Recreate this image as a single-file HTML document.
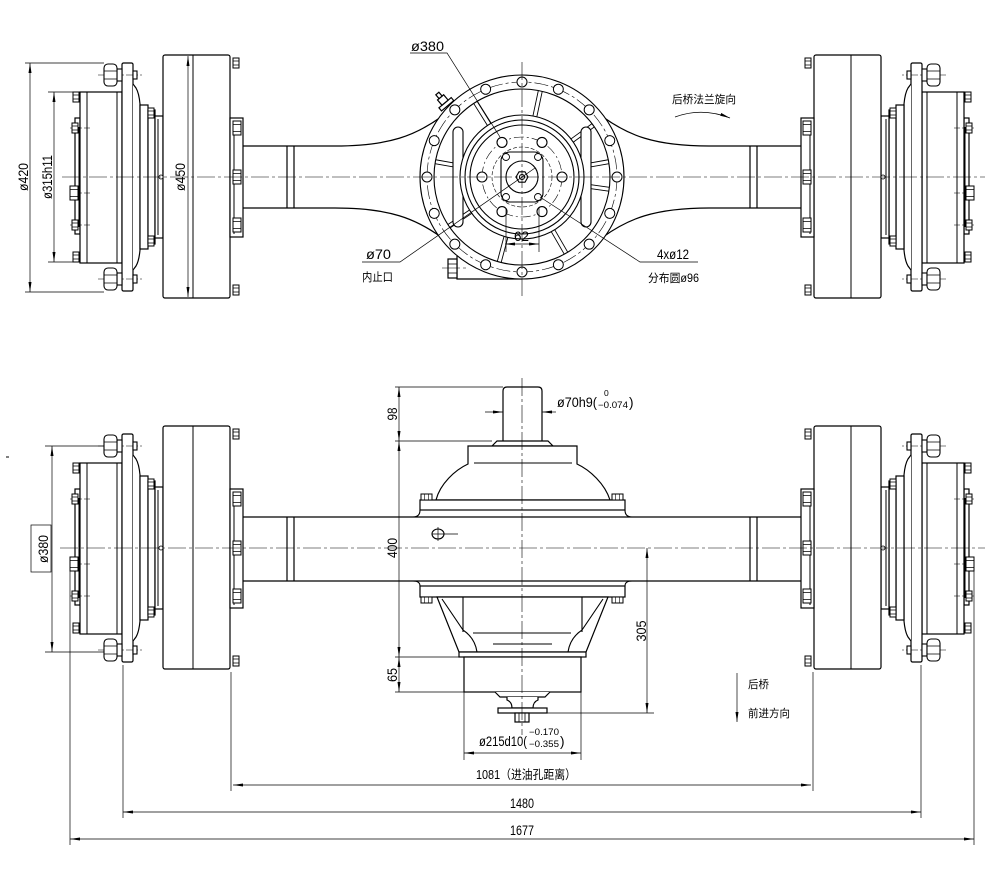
<!DOCTYPE html>
<html><head><meta charset="utf-8"><style>
html,body{margin:0;padding:0;background:#fff;}
svg{display:block;}
text{font-family:"Liberation Sans","Noto Sans CJK SC",sans-serif;fill:#000;stroke:none;}
</style></head><body>
<svg width="1000" height="874" viewBox="0 0 1000 874" xmlns="http://www.w3.org/2000/svg">
<defs>
<marker id="a" viewBox="0 0 10 3" refX="10" refY="1.5" markerWidth="10" markerHeight="3" markerUnits="userSpaceOnUse" orient="auto-start-reverse"><path d="M0,0L10,1.5L0,3z" fill="#000"/></marker>
<g id="nut"><rect x="-4" y="-7" width="8" height="14" fill="#fff" stroke="#000" stroke-width="1"/><path d="M-4,-3.5H4M-4,3.5H4" stroke="#000" stroke-width="0.8"/></g>
<g id="snut"><rect x="-3" y="-5" width="6" height="10" fill="#fff" stroke="#000" stroke-width="1"/><path d="M-3,-2H3M-3,2H3" stroke="#000" stroke-width="0.7"/></g>
<g id="end">
 <g fill="#fff" stroke="#000" stroke-width="1.2">
  <rect x="75" y="-59" width="5" height="116"/>
  <rect x="80" y="-85" width="42" height="171"/>
  <rect x="122" y="-114" width="11" height="228" rx="1.5"/>
  <path d="M133,-93 L136,-89 Q139,-84 140,-73 L140,73 Q139,84 136,89 L133,93"/>
  <rect x="140" y="-72" width="8" height="144"/>
  <rect x="148" y="-67" width="7" height="134"/>
  <rect x="155" y="-61" width="8" height="122"/>
  <rect x="163" y="-122" width="67" height="243" rx="2"/>
  <rect x="230" y="-59" width="13" height="119"/>
 </g>
 <g stroke="#000" stroke-width="1" fill="none">
  <line x1="87" y1="-85" x2="87" y2="86"/>
  <line x1="117" y1="-85" x2="117" y2="86"/>
  <line x1="193" y1="-122" x2="193" y2="121"/>
  <line x1="158" y1="-58" x2="158" y2="58"/>
  <line x1="234" y1="-56" x2="234" y2="57"/>
  <line x1="79" y1="-50" x2="79" y2="50"/>
 </g>
 <g stroke="#000" stroke-width="0.6" stroke-dasharray="8 2 2 2">
  <line x1="98" y1="-102" x2="142" y2="-102"/>
  <line x1="98" y1="102" x2="142" y2="102"/>
  <line x1="70" y1="-49" x2="90" y2="-49"/>
  <line x1="70" y1="16" x2="90" y2="16"/>
  <line x1="70" y1="48" x2="90" y2="48"/>
 </g>
 <g fill="#fff" stroke="#000" stroke-width="1.1">
  <rect x="117" y="-108" width="5" height="12"/>
  <rect x="117" y="96" width="5" height="12"/>
  <rect x="104" y="-113" width="13" height="22" rx="4"/>
  <rect x="104" y="91" width="13" height="22" rx="4"/>
  <rect x="133" y="-106" width="4" height="8"/>
  <rect x="133" y="98" width="4" height="8"/>
 </g>
 <path d="M104,-106H117M104,-98H117M104,98H117M104,106H117" stroke="#000" stroke-width="0.8"/>
 <use href="#snut" x="76" y="-80"/>
 <use href="#snut" x="75" y="-49"/>
 <use href="#nut" x="74" y="16"/>
 <use href="#snut" x="75" y="48"/>
 <use href="#snut" x="76" y="80"/>
 <use href="#snut" x="151" y="-64"/>
 <use href="#snut" x="151" y="64"/>
 <use href="#nut" x="237" y="-49"/>
 <use href="#nut" x="237" y="0"/>
 <use href="#nut" x="237" y="48"/>
 <use href="#snut" x="236" y="-114"/>
 <use href="#snut" x="236" y="113"/>
 <circle cx="161" cy="0" r="2" fill="#fff" stroke="#000" stroke-width="0.8"/>
</g>
</defs>

<!-- ================= TOP VIEW ================= -->
<g fill="none" stroke="#000" stroke-width="1.2">
 <path d="M243,146 L335,146 C390,146 416,135 441,117"/>
 <path d="M243,208 L335,208 C390,208 416,219 441,237"/>
 <path d="M801,146 L709,146 C654,146 628,135 603,117"/>
 <path d="M801,208 L709,208 C654,208 628,219 603,237"/>
 <path d="M287,146V208M294,146V208M750,146V208M757,146V208"/>
</g>
<use href="#end" transform="translate(0,177)"/>
<use href="#end" transform="translate(1044,177) scale(-1,1)"/>

<g fill="none" stroke="#000" stroke-width="1.2">
 <path d="M457,256 L457,279 L522,279"/>
 <rect x="448" y="259" width="9" height="19" fill="#fff"/>
 <path d="M448,264H457M448,273H457" stroke-width="0.8"/>
 <g transform="translate(447,105) rotate(-40)" fill="#fff">
  <rect x="-8" y="-3" width="16" height="4"/>
  <rect x="-4" y="-10" width="8" height="7"/>
  <rect x="-2" y="-15" width="4" height="5"/>
 </g>
</g>
<g transform="translate(522,177)" fill="none" stroke="#000" stroke-width="1.1">
 <circle r="102" fill="#fff"/>
 <circle r="95" stroke-width="0.6" stroke-dasharray="14 3 3 3"/>
 <circle r="88"/>
 <g stroke-width="0.9">
  <path transform="rotate(-78)" d="M62,-2H88M62,2H88"/>
  <path transform="rotate(-122)" d="M62,-2H88M62,2H88"/>
  <path transform="rotate(-36)" d="M62,-2H88M62,2H88"/>
  <path transform="rotate(-10)" d="M62,-2H88M62,2H88"/>
  <path transform="rotate(8)" d="M62,-2H88M62,2H88"/>
  <path transform="rotate(60)" d="M62,-2H88M62,2H88"/>
  <path transform="rotate(105)" d="M62,-2H88M62,2H88"/>
  <path transform="rotate(-170)" d="M62,-2H88M62,2H88"/>
  <path transform="rotate(-214)" d="M62,-2H88M62,2H88"/>
 </g>
 <rect x="-69" y="-50" width="10" height="100" rx="5" fill="#fff"/>
 <rect x="59" y="-50" width="10" height="100" rx="5" fill="#fff"/>
 <circle r="62" fill="#fff"/>
 <circle r="57"/>
 <circle r="52"/>
 <circle r="40" stroke-width="0.6" stroke-dasharray="10 3 2 3"/>
 <circle r="30" stroke-width="0.6" stroke-dasharray="4 2"/>
 <g fill="#fff">
  <circle cx="40" cy="0" r="5"/><circle cx="20" cy="34.6" r="5"/><circle cx="-20" cy="34.6" r="5"/>
  <circle cx="-40" cy="0" r="5"/><circle cx="-20" cy="-34.6" r="5"/><circle cx="20" cy="-34.6" r="5"/>
 </g>
 <rect x="-21" y="-25" width="42" height="50" rx="9" fill="#fff"/>
 <g fill="#fff" stroke-width="0.9">
  <circle cx="-16" cy="-20" r="3.5"/><circle cx="16" cy="-20" r="3.5"/>
  <circle cx="-16" cy="20" r="3.5"/><circle cx="16" cy="20" r="3.5"/>
 </g>
 <circle r="16"/>
 <polygon points="6,0 3,5.2 -3,5.2 -6,0 -3,-5.2 3,-5.2"/>
 <circle r="2.5"/>
 <g fill="#fff" stroke-width="1">
  <circle cx="95" r="5"/>
  <circle cx="95" r="5" transform="rotate(22.5)"/>
  <circle cx="95" r="5" transform="rotate(45)"/>
  <circle cx="95" r="5" transform="rotate(67.5)"/>
  <circle cx="95" r="5" transform="rotate(90)"/>
  <circle cx="95" r="5" transform="rotate(112.5)"/>
  <circle cx="95" r="5" transform="rotate(135)"/>
  <circle cx="95" r="5" transform="rotate(157.5)"/>
  <circle cx="95" r="5" transform="rotate(180)"/>
  <circle cx="95" r="5" transform="rotate(202.5)"/>
  <circle cx="95" r="5" transform="rotate(225)"/>
  <circle cx="95" r="5" transform="rotate(247.5)"/>
  <circle cx="95" r="5" transform="rotate(270)"/>
  <circle cx="95" r="5" transform="rotate(292.5)"/>
  <circle cx="95" r="5" transform="rotate(315)"/>
  <circle cx="95" r="5" transform="rotate(337.5)"/>
 </g>
</g>

<g stroke="#000" stroke-width="0.6" stroke-dasharray="18 3 3 3">
 <line x1="62" y1="177" x2="985" y2="177"/>
 <line x1="522" y1="62" x2="522" y2="296"/>
 <line x1="442" y1="268" x2="468" y2="268"/>
</g>

<g stroke="#000" stroke-width="0.7" fill="none">
 <path d="M25,63H104M25,292H104M48,92H80M48,262H80"/>
 <line x1="30" y1="63" x2="30" y2="292" marker-start="url(#a)" marker-end="url(#a)"/>
 <line x1="54" y1="92" x2="54" y2="262" marker-start="url(#a)" marker-end="url(#a)"/>
 <line x1="188" y1="56" x2="188" y2="297" marker-start="url(#a)" marker-end="url(#a)"/>
 <path d="M410,53H447L500,137"/>
 <path d="M362,262H400L535,168"/>
 <path d="M698,262H640L540,197"/>
 <path d="M506,208V252M539,208V252"/>
 <line x1="505" y1="244" x2="539" y2="244" marker-start="url(#a)" marker-end="url(#a)"/>
 <path d="M675,117 Q702,107 730,118" marker-end="url(#a)"/>
</g>
<g font-size="13.5">
 <text transform="translate(28,177) rotate(-90)" text-anchor="middle" textLength="28" lengthAdjust="spacingAndGlyphs">ø420</text>
 <text transform="translate(52,177) rotate(-90)" text-anchor="middle" textLength="44" lengthAdjust="spacingAndGlyphs">ø315h11</text>
 <text transform="translate(185,177) rotate(-90)" text-anchor="middle" textLength="28" lengthAdjust="spacingAndGlyphs">ø450</text>
 <text x="411" y="51" textLength="33" lengthAdjust="spacingAndGlyphs">ø380</text>
 <text x="366" y="259" textLength="25" lengthAdjust="spacingAndGlyphs">ø70</text>
 <text x="362" y="281" font-size="11.5" textLength="31" lengthAdjust="spacingAndGlyphs">内止口</text>
 <text x="657" y="259" textLength="32" lengthAdjust="spacingAndGlyphs">4xø12</text>
 <text x="648" y="282" font-size="11.5" textLength="51" lengthAdjust="spacingAndGlyphs">分布圆ø96</text>
 <text x="514" y="241" textLength="15" lengthAdjust="spacingAndGlyphs">62</text>
 <text x="672" y="103" font-size="11" textLength="64" lengthAdjust="spacingAndGlyphs">后桥法兰旋向</text>
</g>

<!-- ================= FRONT VIEW ================= -->
<g fill="none" stroke="#000" stroke-width="1.2">
 <path d="M243,517H801M243,581H801"/>
 <path d="M287,517V581M294,517V581M750,517V581M757,517V581"/>
</g>
<use href="#end" transform="translate(0,548)"/>
<use href="#end" transform="translate(1044,548) scale(-1,1)"/>

<g fill="#fff" stroke="#000" stroke-width="1.2">
 <path d="M503,441 L503,391 Q503,387 507,387 L538,387 Q542,387 542,391 L542,441"/>
 <path d="M492,446 L497,441 L548,441 L553,446 Z"/>
 <path d="M436,500 C440,484 455,470 468,464 L468,446 L577,446 L577,464 C590,470 605,484 610,500 Z"/>
 <rect x="420" y="500" width="205" height="10"/>
 <rect x="420" y="586" width="205" height="11"/>
 <path d="M437,597 L459,652 L586,652 L608,597 Z"/>
 <rect x="459" y="652" width="127" height="5"/>
 <rect x="464" y="657" width="117" height="35"/>
 <path d="M495,692 L500,697 L545,697 L550,692"/>
 <path d="M507,697 L507,700 Q512,702 512,708 L533,708 Q533,702 538,700 L538,697"/>
 <rect x="498" y="708" width="49" height="5"/>
 <rect x="515" y="713" width="14" height="9"/>
</g>
<g fill="none" stroke="#000" stroke-width="1.1">
 <path d="M474,463H572"/>
 <path d="M420,510 Q420,517 413,517M625,510 Q625,517 632,517"/>
 <path d="M413,581 Q420,581 420,586M632,581 Q625,581 625,586"/>
 <path d="M442,599 L463,630 Q475,638 477,652M603,599 L582,630 Q570,638 568,652"/>
 <path d="M463,597V632M582,597V632"/>
 <path d="M473,633H571M493,644H552"/>
 <path d="M519,713V722M525,713V722" stroke-width="0.8"/>
 <ellipse cx="438" cy="534" rx="6" ry="5" fill="#fff"/>
 <path d="M432,534H444M438,527V541M444,534H458" stroke-width="0.7"/>
</g>
<g fill="#fff" stroke="#000" stroke-width="1">
 <rect x="421" y="494" width="11" height="6"/><rect x="612" y="494" width="11" height="6"/>
 <rect x="421" y="597" width="11" height="6"/><rect x="612" y="597" width="11" height="6"/>
</g>
<path d="M424.5,494V500M428.5,494V500M615.5,494V500M619.5,494V500M424.5,597V603M428.5,597V603M615.5,597V603M619.5,597V603" stroke="#000" stroke-width="0.6"/>

<g stroke="#000" stroke-width="0.6" stroke-dasharray="18 3 3 3">
 <line x1="60" y1="548" x2="985" y2="548"/>
 <line x1="522" y1="378" x2="522" y2="735"/>
</g>

<g stroke="#000" stroke-width="0.7" fill="none">
 <path d="M395,387H503M395,441H492M395,657H459M395,692H464"/>
 <line x1="399" y1="387" x2="399" y2="441" marker-start="url(#a)" marker-end="url(#a)"/>
 <line x1="399" y1="441" x2="399" y2="657" marker-start="url(#a)" marker-end="url(#a)"/>
 <line x1="399" y1="657" x2="399" y2="692" marker-start="url(#a)" marker-end="url(#a)"/>
 <path d="M547,713H654"/>
 <line x1="647" y1="548" x2="647" y2="713" marker-start="url(#a)" marker-end="url(#a)"/>
 <line x1="485" y1="412" x2="503" y2="412" marker-end="url(#a)"/>
 <line x1="556" y1="412" x2="542" y2="412" marker-end="url(#a)"/>
 <path d="M464,692V760M581,692V760"/>
 <line x1="464" y1="753" x2="581" y2="753" marker-start="url(#a)" marker-end="url(#a)"/>
 <path d="M45,446H104M45,652H104"/>
 <line x1="52" y1="446" x2="52" y2="652" marker-start="url(#a)" marker-end="url(#a)"/>
 <rect x="31" y="525" width="20" height="47"/>
 <path d="M70,566V845M123,665V818M231,672V791M974,566V845M921,665V818M813,672V791"/>
 <line x1="233" y1="785" x2="811" y2="785" marker-start="url(#a)" marker-end="url(#a)"/>
 <line x1="123" y1="812" x2="921" y2="812" marker-start="url(#a)" marker-end="url(#a)"/>
 <line x1="70" y1="839" x2="974" y2="839" marker-start="url(#a)" marker-end="url(#a)"/>
 <line x1="737" y1="673" x2="737" y2="722" marker-end="url(#a)"/>
 <path d="M6,457H9" stroke-width="1"/>
</g>
<g font-size="13.5">
 <text transform="translate(397,414) rotate(-90)" text-anchor="middle" textLength="13" lengthAdjust="spacingAndGlyphs">98</text>
 <text transform="translate(397,548) rotate(-90)" text-anchor="middle" textLength="20" lengthAdjust="spacingAndGlyphs">400</text>
 <text transform="translate(397,675) rotate(-90)" text-anchor="middle" textLength="14" lengthAdjust="spacingAndGlyphs">65</text>
 <text transform="translate(646,631) rotate(-90)" text-anchor="middle" textLength="21" lengthAdjust="spacingAndGlyphs">305</text>
 <text transform="translate(48,549) rotate(-90)" text-anchor="middle" textLength="28" lengthAdjust="spacingAndGlyphs">ø380</text>
 <text x="557" y="407" textLength="40" lengthAdjust="spacingAndGlyphs">ø70h9(</text>
 <text x="604" y="396" font-size="8.5">0</text>
 <text x="598" y="408" font-size="9" textLength="30" lengthAdjust="spacingAndGlyphs">−0.074</text>
 <text x="629" y="407">)</text>
 <text x="479" y="746" textLength="48" lengthAdjust="spacingAndGlyphs">ø215d10(</text>
 <text x="529" y="735" font-size="9" textLength="30" lengthAdjust="spacingAndGlyphs">−0.170</text>
 <text x="529" y="747" font-size="9" textLength="30" lengthAdjust="spacingAndGlyphs">−0.355</text>
 <text x="560" y="746">)</text>
 <text x="476" y="779" font-size="12.5" textLength="100" lengthAdjust="spacingAndGlyphs">1081（进油孔距离）</text>
 <text x="510" y="808" textLength="24" lengthAdjust="spacingAndGlyphs">1480</text>
 <text x="510" y="835" textLength="24" lengthAdjust="spacingAndGlyphs">1677</text>
 <text x="748" y="688" font-size="11" textLength="21" lengthAdjust="spacingAndGlyphs">后桥</text>
 <text x="748" y="717" font-size="11" textLength="42" lengthAdjust="spacingAndGlyphs">前进方向</text>
</g>
</svg>
</body></html>
